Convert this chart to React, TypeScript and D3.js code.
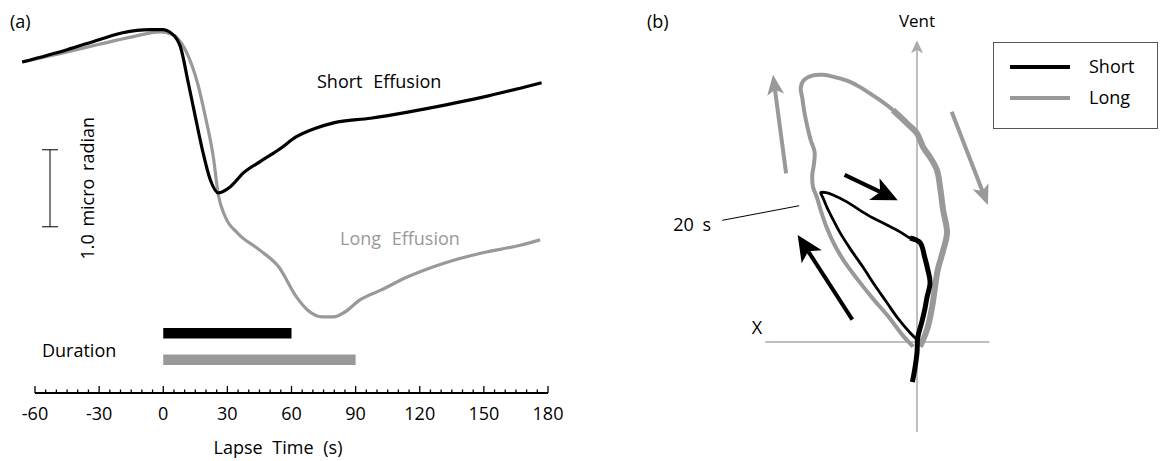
import * as d3 from "d3";

// panel (a): lapse time (s) vs tilt (micro radian, relative to start)
const shortTilt: [number, number][] = [
  [-66, 0], [-45, 0.16], [-30, 0.29], [-19, 0.38], [-6, 0.42], [0, 0.42], [3, 0.39],
  [6.5, 0.29], [8, 0.2], [11.7, -0.27], [15, -0.71], [18.3, -1.14], [22, -1.53],
  [25.8, -1.7], [31.4, -1.62], [37.5, -1.44], [45.5, -1.29], [54, -1.14], [62.3, -0.97],
  [71.3, -0.86], [79.7, -0.79], [97, -0.73], [114.4, -0.65], [131.7, -0.56], [149, -0.46],
  [167, -0.34], [177, -0.27],
];
const longTilt: [number, number][] = [
  [-66, 0], [-45, 0.13], [-30, 0.23], [-14, 0.33], [-1.5, 0.39], [4, 0.36], [10.3, 0.16],
  [16, -0.27], [19.7, -0.71], [23.4, -1.23], [25.8, -1.73], [29, -2.01], [34.7, -2.22],
  [45, -2.44], [54, -2.66], [62.3, -3.05], [67.5, -3.22], [74.5, -3.31], [79.7, -3.31],
  [84.8, -3.25], [92, -3.09], [102, -2.96], [114.4, -2.79], [131.7, -2.61], [149, -2.48],
  [167, -2.38], [176.3, -2.31],
];
const timeTicks = [-60, -30, 0, 30, 60, 90, 120, 150, 180];
const durationEnds = [60, 90]; // short, long
const scaleBarTop = -1.14;
const scaleBarValue = 1.0;

// panel (b): X component vs Vent component
const shortLoop: [number, number][] = [
  [0, 0.03], [-0.09, 0.12], [-0.25, 0.31], [-0.39, 0.51], [-0.55, 0.74], [-0.7, 0.97],
  [-0.86, 1.2], [-1.0, 1.42], [-1.1, 1.61], [-1.17, 1.75], [-1.22, 1.87], [-1.25, 1.94],
  [-1.18, 1.94], [-1.09, 1.91], [-0.91, 1.82], [-0.74, 1.71], [-0.57, 1.61], [-0.39, 1.52],
  [-0.22, 1.43], [-0.09, 1.35], [0.04, 1.29], [0.1, 1.1], [0.14, 0.94], [0.17, 0.77],
  [0.13, 0.58], [0.1, 0.42], [0.06, 0.25], [0.01, 0.06], [0, -0.14], [-0.03, -0.36],
  [-0.06, -0.52],
];
const shortNoisyFrom = 19; // index where the trace turns down along the vent axis
const longLoop: [number, number][] = [
  [-0.05, -0.06], [-0.18, 0.08], [-0.38, 0.34], [-0.57, 0.56], [-0.77, 0.81], [-0.94, 1.04],
  [-1.07, 1.26], [-1.17, 1.48], [-1.25, 1.71], [-1.3, 1.88], [-1.35, 2.01], [-1.36, 2.17],
  [-1.34, 2.3], [-1.33, 2.47], [-1.38, 2.62], [-1.42, 2.78], [-1.46, 2.97], [-1.49, 3.17],
  [-1.51, 3.3], [-1.47, 3.4], [-1.36, 3.46], [-1.22, 3.47], [-1.07, 3.44], [-0.9, 3.39],
  [-0.74, 3.31], [-0.57, 3.2], [-0.48, 3.14], [-0.31, 3.01], [-0.13, 2.84], [0, 2.71],
  [0.08, 2.53], [0.17, 2.4], [0.26, 2.23], [0.3, 2.01], [0.34, 1.71], [0.39, 1.42],
  [0.34, 1.19], [0.27, 0.94], [0.23, 0.68], [0.19, 0.42], [0.13, 0.16], [0.04, -0.06],
];
const longNoisyFrom = 27;
const loopArrows = [
  { from: [-1.7, 2.19], to: [-1.87, 3.47], color: "#999", head: 20, width: 17 },
  { from: [0.45, 2.99], to: [0.92, 1.78], color: "#999", head: 20, width: 17 },
  { from: [-0.94, 2.17], to: [-0.25, 1.84], color: "#000", head: 26, width: 24 },
  { from: [-0.84, 0.29], to: [-1.55, 1.39], color: "#000", head: 26, width: 24 },
];
const legendItems = [
  { name: "Short", color: "#000" },
  { name: "Long", color: "#999" },
];

const FONT = "'Open Sans', sans-serif";
const GRAY = "#999";

function arrowHead(x1: number, y1: number, x2: number, y2: number, len: number, w: number) {
  const a = Math.atan2(y2 - y1, x2 - x1);
  const c = Math.cos(a), s = Math.sin(a);
  const bx = x2 - len * c, by = y2 - len * s;
  const nx = x2 - len * 0.75 * c, ny = y2 - len * 0.75 * s;
  const pts = [
    [x2, y2],
    [bx - (w / 2) * s, by + (w / 2) * c],
    [nx, ny],
    [bx + (w / 2) * s, by - (w / 2) * c],
  ];
  return { pts: pts.map((p) => p.join(",")).join(" "), sx: nx, sy: ny };
}

export default function App() {
  // panel (a)
  const x = d3.scaleLinear().domain([-60, 180]).range([35, 548]);
  const y = d3.scaleLinear().domain([0, -1]).range([62, 139]);
  const line = d3
    .line<[number, number]>()
    .x((d) => x(d[0]))
    .y((d) => y(d[1]))
    .curve(d3.curveMonotoneX);
  const axisY = 393;
  const minor = d3.range(-60, 181, 5);
  const barY = [333, 359.5];

  // panel (b)
  const bx = d3.scaleLinear().domain([0, 1]).range([917, 994]);
  const by = d3.scaleLinear().domain([0, 1]).range([342, 265]);
  const loop = d3
    .line<[number, number]>()
    .x((d) => bx(d[0]))
    .y((d) => by(d[1]))
    .curve(d3.curveCatmullRom);

  const ventTop = by(3.92);
  const ventHead = arrowHead(bx(0), by(0), bx(0), ventTop, 13, 12);

  return (
    <svg
      width={1160}
      height={461}
      style={{ position: "absolute", left: 0, top: 0, background: "#fff" }}
      fontFamily={FONT}
    >
      {/* ---------- (a) ---------- */}
      <text x={10} y={28} fontSize={18}>(a)</text>

      <path d={line(longTilt) ?? ""} fill="none" stroke={GRAY} strokeWidth={3.2} />
      <path d={line(shortTilt) ?? ""} fill="none" stroke="#000" strokeWidth={3.2} />

      <text x={317} y={88} fontSize={18} wordSpacing={6}>Short Effusion</text>
      <text x={340} y={245} fontSize={18} wordSpacing={6} fill={GRAY}>Long Effusion</text>

      {/* scale bar */}
      <g stroke="#000" strokeWidth={1}>
        <line x1={50} x2={50} y1={y(scaleBarTop)} y2={y(scaleBarTop - scaleBarValue)} />
        <line x1={42} x2={58} y1={y(scaleBarTop)} y2={y(scaleBarTop)} />
        <line x1={42} x2={58} y1={y(scaleBarTop - scaleBarValue)} y2={y(scaleBarTop - scaleBarValue)} />
      </g>
      <text
        transform={`translate(94,${(y(scaleBarTop) + y(scaleBarTop - scaleBarValue)) / 2}) rotate(-90)`}
        textAnchor="middle"
        fontSize={18}
        wordSpacing={3}
      >
        1.0 micro radian
      </text>

      {/* duration bars */}
      {durationEnds.map((end, i) => (
        <rect
          key={i}
          x={x(0)}
          y={barY[i] - 5}
          width={x(end) - x(0)}
          height={10.5}
          fill={i === 0 ? "#000" : GRAY}
        />
      ))}
      <text x={42} y={357} fontSize={18}>Duration</text>

      {/* time axis */}
      <line x1={x(-60)} x2={x(180)} y1={axisY} y2={axisY} stroke="#000" strokeWidth={2} />
      {minor.map((t) => (
        <line
          key={t}
          x1={x(t)}
          x2={x(t)}
          y1={axisY}
          y2={axisY - (t % 30 === 0 ? 7 : 3.5)}
          stroke="#000"
          strokeWidth={1.3}
        />
      ))}
      {timeTicks.map((t) => (
        <text key={t} x={x(t)} y={420} textAnchor="middle" fontSize={18}>
          {t}
        </text>
      ))}
      <text x={278} y={454} textAnchor="middle" fontSize={18} wordSpacing={5}>Lapse Time (s)</text>

      {/* ---------- (b) ---------- */}
      <text x={647} y={28} fontSize={18}>(b)</text>

      {/* axes */}
      <line x1={bx(-1.97)} x2={bx(0.94)} y1={by(0)} y2={by(0)} stroke="#aaa" strokeWidth={1.5} />
      <line x1={bx(0)} x2={bx(0)} y1={by(-1.17)} y2={ventHead.sy} stroke="#aaa" strokeWidth={1.5} />
      <polygon points={ventHead.pts} fill="#aaa" />
      <text x={bx(0)} y={27} textAnchor="middle" fontSize={17}>Vent</text>
      <text x={757} y={334} textAnchor="middle" fontSize={18}>X</text>

      <path d={loop(longLoop) ?? ""} fill="none" stroke={GRAY} strokeWidth={4} strokeLinejoin="round" />
      <path
        d={loop(longLoop.slice(longNoisyFrom)) ?? ""}
        fill="none"
        stroke={GRAY}
        strokeWidth={6}
        strokeLinejoin="round"
      />
      <path d={loop(shortLoop) ?? ""} fill="none" stroke="#000" strokeWidth={2.8} strokeLinejoin="round" />
      <path
        d={loop(shortLoop.slice(shortNoisyFrom)) ?? ""}
        fill="none"
        stroke="#000"
        strokeWidth={5}
        strokeLinejoin="round"
      />

      {loopArrows.map((a, i) => {
        const x1 = bx(a.from[0]), y1 = by(a.from[1]);
        const x2 = bx(a.to[0]), y2 = by(a.to[1]);
        const h = arrowHead(x1, y1, x2, y2, a.head, a.width);
        return (
          <g key={i}>
            <line x1={x1} y1={y1} x2={h.sx} y2={h.sy} stroke={a.color} strokeWidth={4} />
            <polygon points={h.pts} fill={a.color} />
          </g>
        );
      })}

      {/* 20 s marker */}
      <line x1={bx(-2.53)} y1={by(1.58)} x2={bx(-1.53)} y2={by(1.77)} stroke="#000" strokeWidth={1} />
      <text x={711} y={231} textAnchor="end" fontSize={18} wordSpacing={4}>20 s</text>

      {/* legend */}
      <rect x={993.5} y={42.5} width={164} height={86} fill="#fff" stroke="#555" strokeWidth={1} />
      {legendItems.map((d, i) => (
        <g key={d.name}>
          <line x1={1010} x2={1070} y1={67 + i * 31} y2={67 + i * 31} stroke={d.color} strokeWidth={4} />
          <text x={1089} y={73 + i * 31} fontSize={18}>{d.name}</text>
        </g>
      ))}
    </svg>
  );
}
